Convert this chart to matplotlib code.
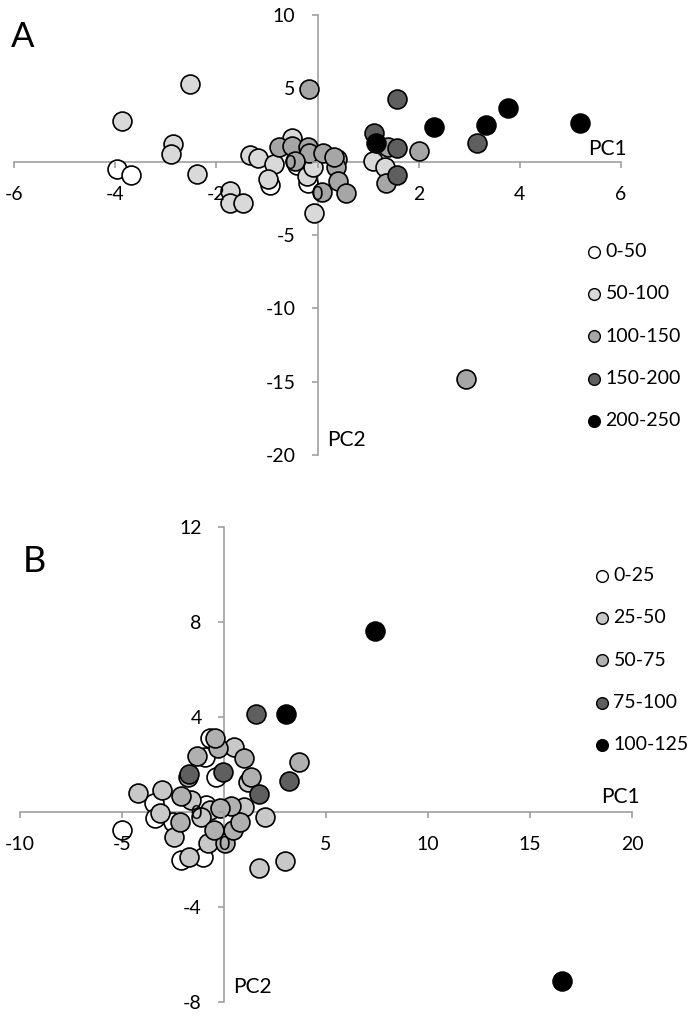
import matplotlib
matplotlib.use("Agg")
import matplotlib.pyplot as plt

plt.rcParams['font.family'] = ['Lato', 'DejaVu Sans']

# ---------------- Panel A data ----------------
a_labels = ['0-50', '50-100', '100-150', '150-200', '200-250']
a_x0 = [-3.97, -3.69, -0.41, -0.94, -0.18]
a_y0 = [-0.5, -0.9, -0.23, -1.59, -1.47]
a_x1 = [-3.87, -2.53, -2.85, -2.90, -2.38, -1.73, -1.73, -1.47, -1.33, -1.17,
        -0.86, -0.97, -0.51, -0.21, -0.07, -0.09, 1.09, 1.33]
a_y1 = [2.78, 5.3, 1.19, 0.5, -0.84, -1.98, -2.8, -2.84, 0.46, 0.27,
        -0.16, -1.2, 1.6, -0.98, -3.48, -0.34, 0.05, -0.34]
a_x2 = [-0.17, -0.77, -0.51, -0.18, -0.16, 0.11, 0.08, 0.38, 0.37, 0.40,
        0.56, 1.35, 2.01, 2.93, 1.40, 0.33, -0.45]
a_y2 = [4.94, 1.02, 1.09, 1.02, 0.57, 0.57, -2.1, 0.16, -0.34, -1.3,
        -2.16, -1.47, 0.75, -14.82, 0.98, 0.35, 0.05]
a_x3 = [1.58, 1.12, 1.58, 1.57, 3.15]
a_y3 = [4.26, 1.94, 0.96, -0.9, 1.25]
a_x4 = [1.16, 2.31, 3.34, 3.77, 5.19]
a_y4 = [1.3, 2.39, 2.5, 3.64, 2.62]
a_xticks = [-6, -4, -2, 0, 2, 4, 6]
a_yticks = [-20, -15, -10, -5, 0, 5, 10]

# ---------------- Panel B data ----------------
b_labels = ['0-25', '25-50', '50-75', '75-100', '100-125']
b_x0 = [-5.0, -3.41, -3.36, -2.51, -2.1, -1.04, -0.38, -0.71, -0.91, -0.87]
b_y0 = [-0.77, 0.35, -0.28, -0.42, -2.03, -1.89, 1.47, 3.09, 2.32, 0.28]
b_x1 = [-4.22, -3.03, -3.16, -1.61, -2.43, -1.73, -0.79, -0.71, 1.0, -1.12,
        1.99, 1.17, 0.51, 1.71, 3.01]
b_y1 = [0.77, 0.91, -0.04, 0.49, -1.08, -1.89, -1.33, 0.07, 0.21, -0.21,
        -0.24, 1.26, 2.74, -2.38, -2.06]
b_x2 = [-2.1, -2.18, 0.07, 0.43, 0.79, 0.35, -0.22, -1.77, 1.33, -1.31,
        -0.3, -0.42, 1.0, 3.67, -0.47]
b_y2 = [0.66, -0.42, -1.33, -0.77, -0.42, 0.24, 0.14, 1.47, 1.47, 2.35,
        2.67, 3.09, 2.25, 2.1, -0.77]
b_x3 = [1.58, 3.21, 1.71, -0.06, -1.72]
b_y3 = [4.1, 1.3, 0.73, 1.68, 1.6]
b_x4 = [3.05, 7.38, 16.56]
b_y4 = [4.1, 7.61, -7.13]
b_xticks = [-10, -5, 0, 5, 10, 15, 20]
b_yticks = [-8, -4, 0, 4, 8, 12]

colors = ['#ffffff', '#d9d9d9', '#a6a6a6', '#5f5f5f', '#000000']
colors_b = ['#ffffff', '#c8c8c8', '#b0b0b0', '#5f5f5f', '#000000']

W, H = 696, 1016
fig = plt.figure(figsize=(W / 100, H / 100), dpi=100)

def px_axes(l, r, t, b):
    return fig.add_axes([l / W, 1 - b / H, (r - l) / W, (b - t) / H])

axA = px_axes(14, 621, 15, 455)
axB = px_axes(20, 632, 526.7, 1001.7)

AXC = '#a0a0a0'
FS = 14

def style(ax, xlim, ylim, xt, yt, xpad, ypad):
    ax.set_xlim(*xlim)
    ax.set_ylim(*ylim)
    for s in ['top', 'right']:
        ax.spines[s].set_visible(False)
    ax.spines['left'].set_position(('data', 0))
    ax.spines['bottom'].set_position(('data', 0))
    for s in ['left', 'bottom']:
        ax.spines[s].set_color(AXC)
        ax.spines[s].set_linewidth(1.2)
        ax.spines[s].set_zorder(0.5)
    ax.set_xticks(xt)
    ax.set_yticks(yt)
    ax.set_xticklabels([str(v) for v in xt])
    ax.set_yticklabels([str(v) for v in yt])
    ax.tick_params(axis='x', direction='out', length=4.5, width=1.2, color=AXC,
                   labelsize=FS, pad=xpad)
    ax.tick_params(axis='y', direction='out', length=4.5, width=1.2, color=AXC,
                   labelsize=FS, pad=ypad)
    ax.xaxis.set_zorder(3)
    ax.yaxis.set_zorder(3)
    ax.patch.set_visible(False)

style(axA, (-6, 6), (-20, 10), a_xticks, a_yticks, 13, 11.5)
style(axB, (-10, 20), (-8, 12), b_xticks, b_yticks, 13, 11.5)

MS = 185
EW = 1.2

for xs, ys, c, lab in zip([a_x0, a_x1, a_x2, a_x3, a_x4],
                          [a_y0, a_y1, a_y2, a_y3, a_y4], colors, a_labels):
    axA.scatter(xs, ys, s=MS, c=c, edgecolors='black', linewidths=EW,
                zorder=2, clip_on=False, label=lab)

for xs, ys, c, lab in zip([b_x0, b_x1, b_x2, b_x3, b_x4],
                          [b_y0, b_y1, b_y2, b_y3, b_y4], colors_b, b_labels):
    axB.scatter(xs, ys, s=MS, c=c, edgecolors='black', linewidths=EW,
                zorder=2, clip_on=False, label=lab)

def make_legend(ax, x, y):
    leg = ax.legend(loc='upper left', bbox_to_anchor=(x / W, 1 - y / H),
                    bbox_transform=fig.transFigure, frameon=False,
                    markerscale=0.62, fontsize=FS, handlelength=0.6,
                    handletextpad=0.3, labelspacing=1.3, borderpad=0,
                    borderaxespad=0, scatterpoints=1)
    for h in leg.legend_handles:
        h.set_linewidth(1.0)
    return leg

make_legend(axA, 588, 243)
make_legend(axB, 596, 567)

# axis titles
fig.text(627 / W, 1 - 155 / H, 'PC1', fontsize=FS + 1, ha='right', va='baseline')
fig.text(327 / W, 1 - 440 / H, 'PC2', fontsize=FS + 1, ha='left', va='center')
fig.text(640 / W, 1 - 803 / H, 'PC1', fontsize=FS + 1, ha='right', va='baseline')
fig.text(233 / W, 1 - 987 / H, 'PC2', fontsize=FS + 1, ha='left', va='center')

# panel letters
fig.text(11 / W, 1 - 37 / H, 'A', fontsize=25, ha='left', va='center')
fig.text(23 / W, 1 - 561 / H, 'B', fontsize=26, ha='left', va='center')

fig.savefig('out.png', dpi=100)
